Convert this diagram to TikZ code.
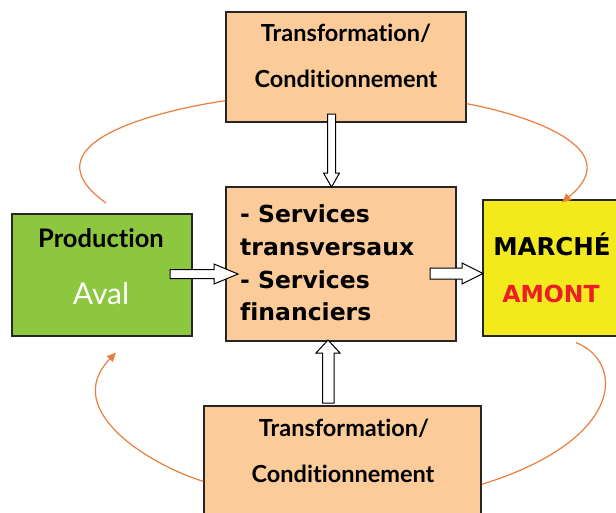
\documentclass[tikz,border=0pt]{standalone}
\usepackage{fontspec}
\setmainfont{Lato}[Ligatures=NoCommon]
\newfontfamily\dvs{DejaVu Sans}[Ligatures=NoCommon]
\usetikzlibrary{arrows.meta}
\definecolor{peach}{HTML}{FBCB9A}
\definecolor{leaf}{HTML}{8DC63F}
\definecolor{lemon}{HTML}{F2EA1D}
\definecolor{alert}{HTML}{EE1C25}
\definecolor{loop}{HTML}{E97E3E}
\begin{document}
\begin{tikzpicture}[x=1pt,y=-1pt,
  box/.style={draw=black!85, line width=1.3pt, inner sep=0pt},
  flow/.style={draw=loop, line width=1.2pt},
  flowtip/.style={-{Triangle[length=9pt,width=8pt]}},
  hollow/.style={draw=black, fill=white, line width=1pt, line join=miter},
  gill/.style={font=\fontsize{23.5}{28}\selectfont\bfseries, inner sep=0pt},
  din/.style={font=\dvs\fontsize{23.5}{28}\selectfont\bfseries, inner sep=0pt}]
\useasboundingbox (0,0) rectangle (616,512);
\clip (0,0) rectangle (616,512);

% boxes
\node[box, fill=peach, minimum width=240pt, minimum height=110pt] (top) at (346,67) {};
\node[box, fill=peach, minimum width=230pt, minimum height=154pt] (centre) at (341,264) {};
\node[box, fill=leaf, minimum width=180pt, minimum height=122pt] (prod) at (102,275) {};
\node[box, fill=lemon, minimum width=142pt, minimum height=136pt] (marche) at (554,268) {};
\node[box, fill=peach, minimum width=277pt, minimum height=114pt] (bottom) at (342.5,463) {};

% curved loops
\coordinate (tlend) at (106,203);
\draw[flow] (tlend) .. controls (25,145) and (150,112) .. ([yshift=22pt]top.south west);
\draw[flow, flowtip] ([yshift=19pt]top.south east) .. controls (527,115) and (629,148) .. ([xshift=8pt,yshift=-3pt]marche.north);
\draw[flow] ([xshift=22pt,yshift=-6pt]marche.south) .. controls (625,362) and (625,440) .. ([yshift=-79pt]bottom.north east);
\draw[flow, flowtip] ([yshift=-76pt]bottom.north west) .. controls (150,465) and (60,410) .. ([xshift=14pt,yshift=-16pt]prod.south);

% hollow block arrows
\draw[hollow] (327.5,114) -- (335.5,114) -- (335.5,173) -- (339.5,173) -- (331.5,187) -- (323.5,173) -- (327.5,173) -- cycle;
\draw[hollow] (322.5,403) -- (334,403) -- (334,353) -- (340,353) -- (328,340) -- (316,353) -- (322.5,353) -- cycle;
\draw[hollow] (170,269.5) -- (214,269.5) -- (214,264) -- (238,274) -- (214,284) -- (214,278.5) -- (170,278.5) -- cycle;
\draw[hollow] (430,268) -- (462,268) -- (462,263) -- (483,273.5) -- (462,284) -- (462,279) -- (430,279) -- cycle;

% texts
\node[gill, anchor=base] (t1) at (346,41) {Transformation/};
\node[gill, anchor=base] (t2) at (346,87) {Conditionnement};
\node[gill, anchor=base] (b1) at (344,436) {Transformation/};
\node[gill, anchor=base] (b2) at (343,482) {Conditionnement};
\node[gill, font=\fontsize{25.5}{30}\selectfont\bfseries, anchor=base] (p1) at (101,247) {Production};
\node[font=\fontsize{30}{34}\selectfont, text=white, inner sep=0pt, anchor=base] (p2) at (101,304) {Aval};
\node[din, font=\dvs\fontsize{24.5}{28}\selectfont\bfseries, anchor=base] (m1) at (552,255) {MARCHÉ};
\node[din, anchor=base, text=alert] (m2) at (551,302) {AMONT};
\node[din, anchor=base west] (c1) at (240,222) {- Services};
\node[din, anchor=base west] (c2) at (240,255) {transversaux};
\node[din, anchor=base west] (c3) at (240,288) {- Services};
\node[din, anchor=base west] (c4) at (240,320) {financiers};
\end{tikzpicture}
\end{document}
